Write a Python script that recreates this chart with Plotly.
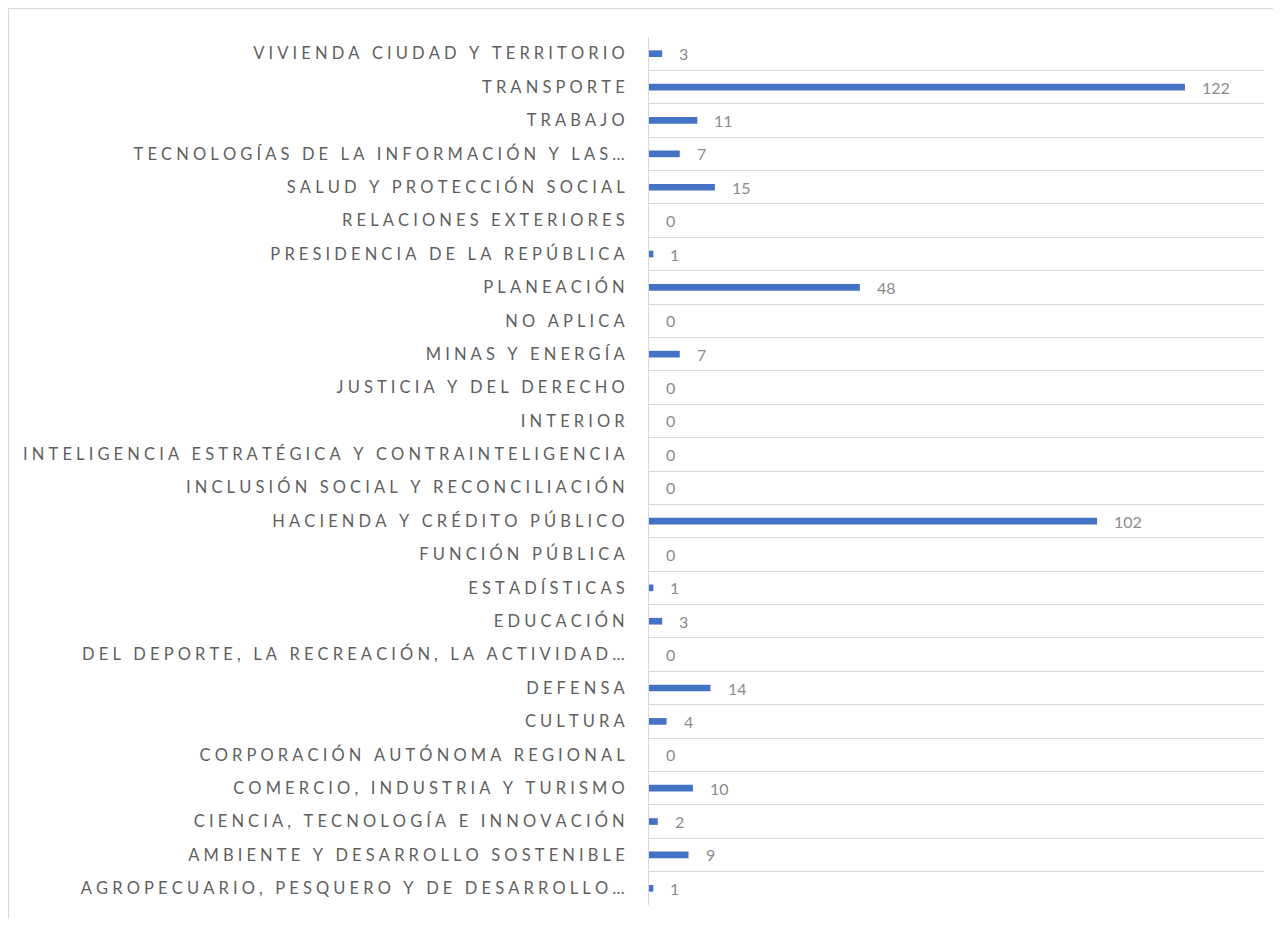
import plotly.graph_objects as go

# categories listed bottom -> top as in the chart
sectores = [
    "AGROPECUARIO, PESQUERO Y DE DESARROLLO…",
    "AMBIENTE Y DESARROLLO SOSTENIBLE",
    "CIENCIA, TECNOLOGÍA E INNOVACIÓN",
    "COMERCIO, INDUSTRIA Y TURISMO",
    "CORPORACIÓN AUTÓNOMA REGIONAL",
    "CULTURA",
    "DEFENSA",
    "DEL DEPORTE, LA RECREACIÓN, LA ACTIVIDAD…",
    "EDUCACIÓN",
    "ESTADÍSTICAS",
    "FUNCIÓN PÚBLICA",
    "HACIENDA Y CRÉDITO PÚBLICO",
    "INCLUSIÓN SOCIAL Y RECONCILIACIÓN",
    "INTELIGENCIA ESTRATÉGICA Y CONTRAINTELIGENCIA",
    "INTERIOR",
    "JUSTICIA Y DEL DERECHO",
    "MINAS Y ENERGÍA",
    "NO APLICA",
    "PLANEACIÓN",
    "PRESIDENCIA DE LA REPÚBLICA",
    "RELACIONES EXTERIORES",
    "SALUD Y PROTECCIÓN SOCIAL",
    "TECNOLOGÍAS DE LA INFORMACIÓN Y LAS…",
    "TRABAJO",
    "TRANSPORTE",
    "VIVIENDA CIUDAD Y TERRITORIO",
]
cantidad = [1, 9, 2, 10, 0, 4, 14, 0, 3, 1, 0, 102, 0, 0, 0, 0, 7, 0, 48, 1, 0, 15, 7, 11, 122, 3]


def espaciar(s):
    # Excel-style letter spacing on the category labels
    return "\u2009\u200a\u200a".join(s)


fig = go.Figure(
    go.Bar(
        x=cantidad,
        y=sectores,
        orientation="h",
        width=0.2,
        marker=dict(color="#4472C4", line=dict(width=0)),
        hoverinfo="skip",
    )
)

# data labels to the right of each bar
for s, v in zip(sectores, cantidad):
    fig.add_annotation(
        x=v, y=s, text=str(v), showarrow=False,
        xanchor="left", xshift=15,
        font=dict(family="Lato", size=16, color="#8C8C8C"),
    )

fig.update_layout(
    width=1265,
    height=910,
    paper_bgcolor="white",
    plot_bgcolor="white",
    margin=dict(l=641, r=9, t=29, b=13),
    showlegend=False,
    font=dict(family="Lato", color="#595959"),
    shapes=[
        dict(
            type="rect", xref="paper", yref="paper",
            x0=-640.5 / 615, x1=1.1, y0=-0.1, y1=1 + 28.5 / 868,
            line=dict(color="#D9D9D9", width=1), layer="below",
        )
    ],
)
fig.update_xaxes(
    range=[0, 140], showgrid=False, showticklabels=False,
    zeroline=False, showline=False, fixedrange=True,
)
fig.update_yaxes(
    type="category",
    tickmode="array",
    tickvals=sectores,
    ticktext=[espaciar(s) for s in sectores],
    tickson="boundaries",
    showgrid=True, gridcolor="#D9D9D9", gridwidth=1,
    showline=True, linecolor="#D9D9D9", linewidth=1,
    ticks="", ticklabelstandoff=20,
    tickfont=dict(family="Lato", size=16.5, color="#5F5F5F"),
    range=[-0.5, len(sectores) - 0.5],
)

fig.write_html("out.html")
